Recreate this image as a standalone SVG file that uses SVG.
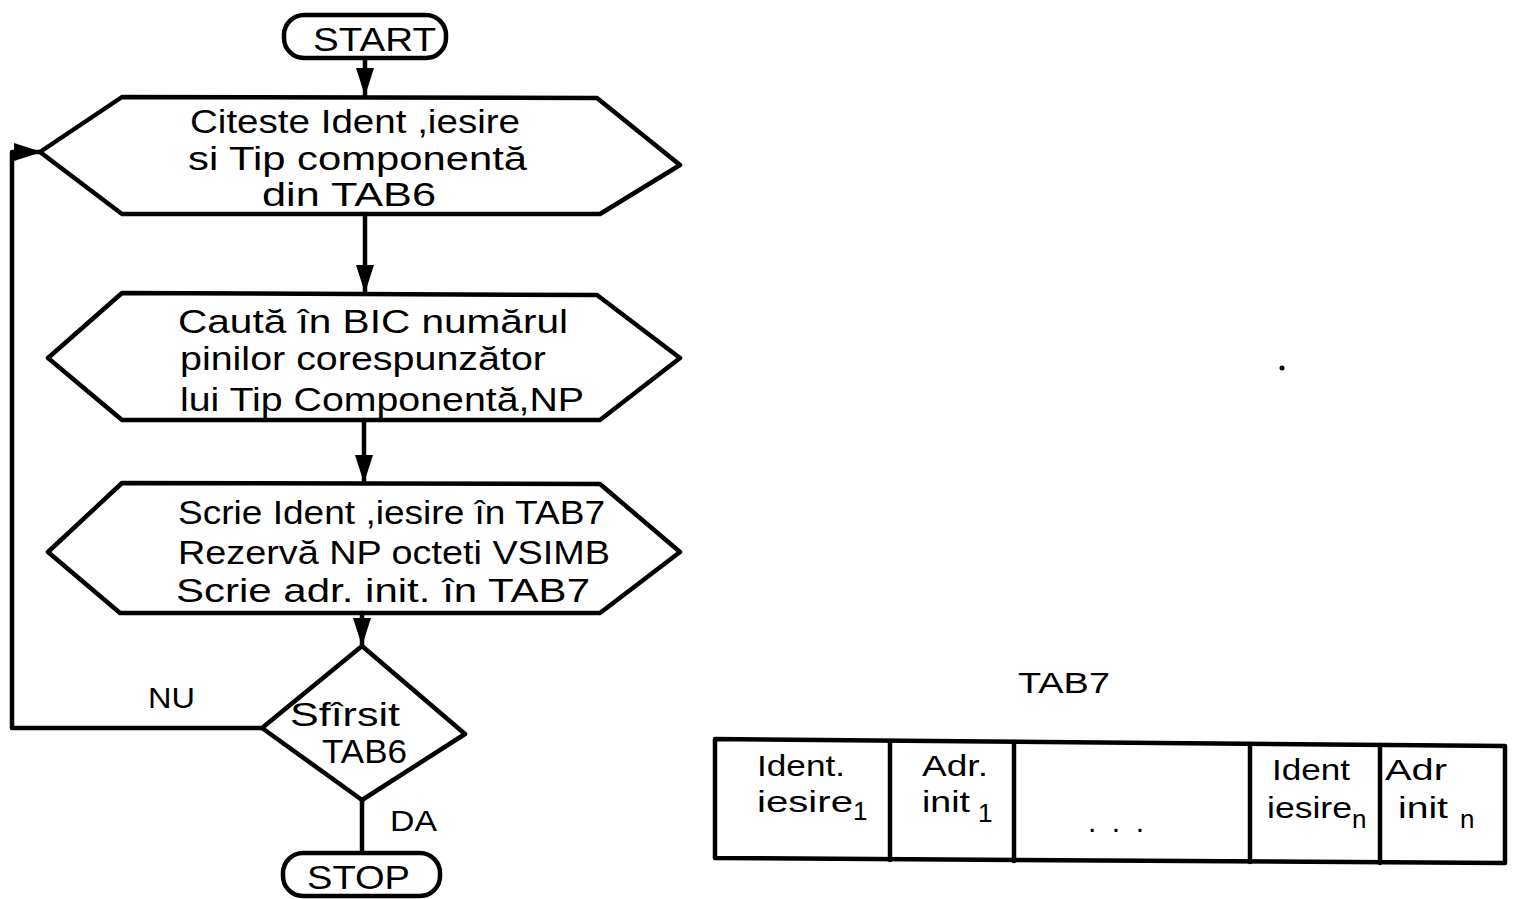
<svg xmlns="http://www.w3.org/2000/svg" width="1514" height="899" viewBox="0 0 1514 899">
<defs>
<style>
.s{fill:none;stroke:#000;stroke-width:4.5;stroke-linejoin:round;stroke-linecap:round}
.t{font-family:"Liberation Sans",Arial,sans-serif;font-size:33px;fill:#000}
.m{font-family:"Liberation Sans",Arial,sans-serif;font-size:30px;fill:#000}
.sub{font-family:"Liberation Sans",Arial,sans-serif;font-size:26px;fill:#000}
</style>
<marker id="ah" viewBox="0 0 28 18" refX="28" refY="9" markerWidth="28" markerHeight="18" markerUnits="userSpaceOnUse" orient="auto">
<path d="M0,0 L28,9 L0,18 z" fill="#000"/>
</marker>
</defs>
<rect width="1514" height="899" fill="#fff"/>

<g id="start">
<rect class="s" x="284" y="15" width="162" height="43" rx="20"/>
<text class="t" x="313" y="51" textLength="123" lengthAdjust="spacingAndGlyphs">START</text>
</g>

<g id="read">
<path class="s" d="M122,97 L597,98 L680,165 L600,214 L122,214 L40,152 Z"/>
<text class="t" x="190" y="133" textLength="330" lengthAdjust="spacingAndGlyphs">Citeste Ident ,iesire</text>
<text class="t" x="188" y="170" textLength="339" lengthAdjust="spacingAndGlyphs">si Tip componentă</text>
<text class="t" x="262" y="206" textLength="174" lengthAdjust="spacingAndGlyphs">din TAB6</text>
</g>

<g id="search">
<path class="s" d="M122,293 L597,295 L680,358 L600,420 L122,420 L48,358 Z"/>
<text class="t" x="178" y="333" textLength="390" lengthAdjust="spacingAndGlyphs">Caută în BIC numărul</text>
<text class="t" x="180" y="370" textLength="366" lengthAdjust="spacingAndGlyphs">pinilor corespunzător</text>
<text class="t" x="180" y="411" textLength="404" lengthAdjust="spacingAndGlyphs">lui Tip Componentă,NP</text>
</g>

<g id="write">
<path class="s" d="M122,483 L600,484 L680,552 L600,613 L120,613 L48,552 Z"/>
<text class="t" x="178" y="524" textLength="427" lengthAdjust="spacingAndGlyphs">Scrie Ident ,iesire în TAB7</text>
<text class="t" x="178" y="564" textLength="432" lengthAdjust="spacingAndGlyphs">Rezervă NP octeti VSIMB</text>
<text class="t" x="176" y="602" textLength="414" lengthAdjust="spacingAndGlyphs">Scrie adr. init. în TAB7</text>
</g>

<g id="decision">
<path class="s" d="M362,646 L465,734 L362,800 L262,728 Z"/>
<text class="t" x="290" y="726" textLength="110" lengthAdjust="spacingAndGlyphs">Sfîrsit</text>
<text class="t" x="322" y="763" textLength="85" lengthAdjust="spacingAndGlyphs">TAB6</text>
</g>

<g id="stop">
<rect class="s" x="283" y="853" width="157" height="43" rx="20"/>
<text class="t" x="307" y="889" textLength="103" lengthAdjust="spacingAndGlyphs">STOP</text>
</g>

<g id="connectors">
<line class="s" x1="365" y1="58" x2="365" y2="96" marker-end="url(#ah)"/>
<line class="s" x1="365" y1="214" x2="365" y2="293" marker-end="url(#ah)"/>
<line class="s" x1="364" y1="420" x2="364" y2="483" marker-end="url(#ah)"/>
<line class="s" x1="362" y1="613" x2="362" y2="646" marker-end="url(#ah)"/>
<line class="s" x1="362" y1="800" x2="362" y2="853"/>
<polyline class="s" points="262,728 12,728 12,152 42,152" marker-end="url(#ah)"/>
<text class="m" x="148" y="708" textLength="47" lengthAdjust="spacingAndGlyphs">NU</text>
<text class="m" x="390" y="831" textLength="47" lengthAdjust="spacingAndGlyphs">DA</text>
</g>

<g id="tab7">
<text class="m" x="1018" y="693" textLength="92" lengthAdjust="spacingAndGlyphs">TAB7</text>
<path class="s" d="M715,739 L1505,746 L1505,863 L715,858 Z"/>
<line class="s" x1="890" y1="741" x2="890" y2="860"/>
<line class="s" x1="1014" y1="742" x2="1014" y2="861"/>
<line class="s" x1="1250" y1="744" x2="1250" y2="862"/>
<line class="s" x1="1380" y1="745" x2="1380" y2="863"/>
<text class="m" x="757" y="776" textLength="88" lengthAdjust="spacingAndGlyphs">Ident.</text>
<text class="m" x="757" y="812" textLength="96" lengthAdjust="spacingAndGlyphs">iesire</text>
<text class="sub" x="853" y="820">1</text>
<text class="m" x="922" y="776" textLength="66" lengthAdjust="spacingAndGlyphs">Adr.</text>
<text class="m" x="922" y="812" textLength="48" lengthAdjust="spacingAndGlyphs">init</text>
<text class="sub" x="978" y="822">1</text>
<text class="m" x="1088" y="832" textLength="56" lengthAdjust="spacing">. . .</text>
<text class="m" x="1272" y="780" textLength="78" lengthAdjust="spacingAndGlyphs">Ident</text>
<text class="m" x="1267" y="818" textLength="85" lengthAdjust="spacingAndGlyphs">iesire</text>
<text class="sub" x="1352" y="828">n</text>
<text class="m" x="1385" y="780" textLength="62" lengthAdjust="spacingAndGlyphs">Adr</text>
<text class="m" x="1398" y="818" textLength="50" lengthAdjust="spacingAndGlyphs">init</text>
<text class="sub" x="1460" y="828">n</text>
</g>
<circle cx="1282" cy="368" r="2.5" fill="#000"/>
</svg>
